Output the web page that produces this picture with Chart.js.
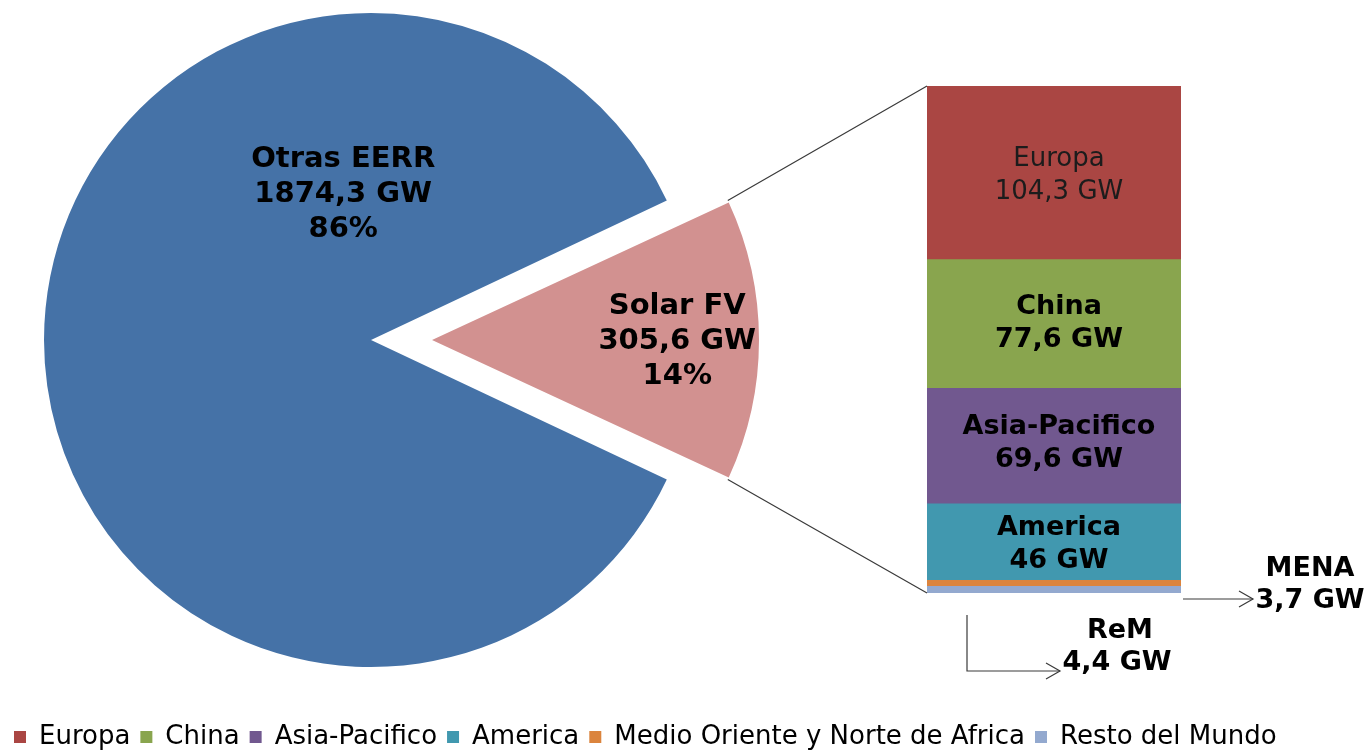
<!DOCTYPE html>
<html>
<head>
<meta charset="utf-8">
<script src="https://cdn.jsdelivr.net/npm/chart.js@4.4.1/dist/chart.umd.min.js"></script>
<style>
  html, body { margin: 0; padding: 0; background: #fff; overflow: hidden; }
  #wrap { position: relative; width: 1368px; height: 752px; overflow: hidden; }
  #wrap canvas { position: absolute; left: 0; top: 0; }
</style>
</head>
<body>
<div id="wrap">
  <canvas id="barCanvas" width="1368" height="760"></canvas>
  <canvas id="pieCanvas" width="1368" height="752"></canvas>
</div>
<script>
// Installed renewable capacity (GW)
const pieLabels = ['Otras EERR', 'Solar FV'];
const pieValues = [1874.3, 305.6];

// Solar FV capacity by region (GW), top of the column first
const regionNames = ['Europa', 'China', 'Asia-Pacifico', 'America', 'Medio Oriente y Norte de Africa', 'Resto del Mundo'];
const regionShort = ['Europa', 'China', 'Asia-Pacifico', 'America', 'MENA', 'ReM'];
const regionValues = [104.3, 77.6, 69.6, 46, 3.7, 4.4];

const pieColors = ['#4572A7', '#D29190'];
const regionColors = ['#AA4643', '#89A54E', '#71588F', '#4198AF', '#DB843D', '#93A9CF'];

const FONT = "'DejaVu Sans', Verdana, sans-serif";
const gw = v => String(v).replace('.', ',') + ' GW';

const pieTotal = pieValues.reduce((a, b) => a + b, 0);
const regionTotal = regionValues.reduce((a, b) => a + b, 0);

// ---------- stacked column with region labels and callouts ----------
const columnLabels = {
  id: 'columnLabels',
  afterDatasetsDraw(chart, args, opts) {
    const ctx = chart.ctx;
    const els = chart.data.datasets.map((d, i) => chart.getDatasetMeta(i).data[0]);
    const left = els[0].x - els[0].width / 2;
    const right = els[0].x + els[0].width / 2;
    const bottom = Math.max(...els.map(e => Math.max(e.y, e.base)));
    ctx.save();
    ctx.textAlign = 'center';
    ctx.textBaseline = 'middle';
    const lineH = 33;
    els.forEach((el, i) => {
      if (!opts.inside[i]) return;
      const cy = (el.y + el.base) / 2 + opts.nudge[i];
      const cx = el.x + 5;
      ctx.font = opts.bold[i] ? 'bold 27px ' + FONT : '26px ' + FONT;
      ctx.fillStyle = opts.bold[i] ? '#000' : '#1c1c1c';
      ctx.fillText(regionShort[i], cx, cy - lineH / 2);
      ctx.fillText(gw(regionValues[i]), cx, cy + lineH / 2);
    });

    // callouts for the two thin slices
    ctx.strokeStyle = '#3a3a3a';
    ctx.lineWidth = 1.2;
    const chevron = (x, y) => {
      ctx.beginPath();
      ctx.moveTo(x - 14, y - 8);
      ctx.lineTo(x, y);
      ctx.lineTo(x - 14, y + 8);
      ctx.stroke();
    };
    ctx.font = 'bold 27px ' + FONT;
    ctx.fillStyle = '#000';

    // MENA
    const mY = bottom + 6;
    ctx.beginPath();
    ctx.moveTo(right + 2, mY);
    ctx.lineTo(right + 72, mY);
    ctx.stroke();
    chevron(right + 72, mY);
    ctx.fillText(regionShort[4], right + 129, bottom - 24);
    ctx.fillText(gw(regionValues[4]), right + 129, bottom + 8);

    // ReM
    const rX = left + 40;
    ctx.beginPath();
    ctx.moveTo(rX, bottom + 22);
    ctx.lineTo(rX, bottom + 78);
    ctx.lineTo(rX + 93, bottom + 78);
    ctx.stroke();
    chevron(rX + 93, bottom + 78);
    ctx.fillText(regionShort[5], left + 193, bottom + 38);
    ctx.fillText(gw(regionValues[5]), left + 190, bottom + 70);
    ctx.restore();
  }
};

const hiddenAxis = {
  display: true,
  grid: { display: false },
  border: { display: false },
  ticks: { display: false }
};

const barChart = new Chart(document.getElementById('barCanvas'), {
  type: 'bar',
  data: {
    labels: ['Solar FV'],
    datasets: regionNames.map((name, i) => ({
      label: name,
      data: [regionValues[i]],
      backgroundColor: regionColors[i],
      borderWidth: 0,
      barPercentage: 1,
      categoryPercentage: 1
    }))
  },
  options: {
    responsive: false,
    animation: false,
    layout: { padding: { left: 4, right: 0, top: 86, bottom: 0 } },
    scales: {
      x: Object.assign({}, hiddenAxis, { stacked: true, afterFit: s => { s.height = 121; } }),
      y: Object.assign({}, hiddenAxis, {
        stacked: true, reverse: true, min: 0, max: regionTotal,
        afterFit: s => { s.width = 923; }
      }),
      yRight: Object.assign({}, hiddenAxis, {
        position: 'right', afterFit: s => { s.width = 187; }
      })
    },
    plugins: {
      legend: {
        position: 'bottom',
        align: 'start',
        labels: {
          boxWidth: 12,
          boxHeight: 12,
          padding: 10,
          color: '#000',
          font: { family: FONT, size: 26 }
        }
      },
      tooltip: { enabled: false },
      columnLabels: {
        inside: [true, true, true, true, false, false],
        bold: [false, true, true, true, true, true],
        nudge: [3, 0, -2, 3, 0, 0]
      }
    }
  },
  plugins: [columnLabels]
});

// ---------- pie with exploded Solar FV slice and connector lines ----------
// An exploded arc is moved by offset/4 and its radius grows by offset/4 * fix;
// the growth is taken back here so the slice keeps the pie's radius.
function radiusGrowth(el) {
  const circ = el.endAngle - el.startAngle;
  const fix = 1 - Math.sin(Math.min(Math.PI, circ));
  return (el.options.offset || 0) / 4 * fix;
}
function sliceShift(el) {
  const d = (el.options.offset || 0) / 4;
  const mid = (el.startAngle + el.endAngle) / 2;
  return { dx: Math.cos(mid) * d, dy: Math.sin(mid) * d };
}

const keepRadius = {
  id: 'keepRadius',
  beforeDatasetsDraw(chart) {
    const meta = chart.getDatasetMeta(0);
    const R = meta.controller.outerRadius;
    meta.data.forEach(el => { el.outerRadius = R - radiusGrowth(el); });
  }
};

const pieDecor = {
  id: 'pieDecor',
  afterDatasetsDraw(chart, args, opts) {
    const ctx = chart.ctx;
    const arcs = chart.getDatasetMeta(0).data;
    const R = chart.getDatasetMeta(0).controller.outerRadius;
    ctx.save();

    // connectors from the exploded slice to the column
    const solar = arcs[1];
    const s = sliceShift(solar);
    const vx = solar.x + s.dx, vy = solar.y + s.dy;
    const bEls = barChart.data.datasets.map((d, i) => barChart.getDatasetMeta(i).data[0]);
    const colLeft = bEls[0].x - bEls[0].width / 2;
    const colTop = Math.min(...bEls.map(e => Math.min(e.y, e.base)));
    const colBottom = Math.max(...bEls.map(e => Math.max(e.y, e.base)));
    ctx.strokeStyle = '#3a3a3a';
    ctx.lineWidth = 1.2;
    ctx.beginPath();
    ctx.moveTo(vx + Math.cos(solar.startAngle) * R, vy + Math.sin(solar.startAngle) * R);
    ctx.lineTo(colLeft, colTop);
    ctx.moveTo(vx + Math.cos(solar.endAngle) * R, vy + Math.sin(solar.endAngle) * R);
    ctx.lineTo(colLeft, colBottom);
    ctx.stroke();

    // slice labels
    ctx.textAlign = 'center';
    ctx.textBaseline = 'middle';
    ctx.font = 'bold 29px ' + FONT;
    ctx.fillStyle = '#000';
    arcs.forEach((el, i) => {
      const sh = sliceShift(el);
      const p = opts.anchor[i];
      const cx = el.x + sh.dx + p[0] * R;
      const cy = el.y + sh.dy + p[1] * R;
      const pct = Math.round(pieValues[i] / pieTotal * 100) + '%';
      const lines = [pieLabels[i], gw(pieValues[i]), pct];
      lines.forEach((t, k) => ctx.fillText(t, cx, cy + (k - 1) * 35));
    });
    ctx.restore();
  }
};

const pieChart = new Chart(document.getElementById('pieCanvas'), {
  type: 'pie',
  data: {
    labels: pieLabels,
    datasets: [{
      data: pieValues,
      backgroundColor: pieColors,
      borderWidth: 0,
      offset: [0, 244]
    }]
  },
  options: {
    responsive: false,
    animation: false,
    // Solar FV slice centred on the horizontal, pointing right
    rotation: 90 + 180 * pieValues[1] / pieTotal,
    radius: 327,
    layout: { padding: { left: 0, top: 0, right: 626, bottom: 72 } },
    plugins: {
      legend: { display: false },
      tooltip: { enabled: false },
      pieDecor: { anchor: [[-0.085, -0.445], [0.75, 0.003]] }
    }
  },
  plugins: [keepRadius, pieDecor]
});
</script>
</body>
</html>
